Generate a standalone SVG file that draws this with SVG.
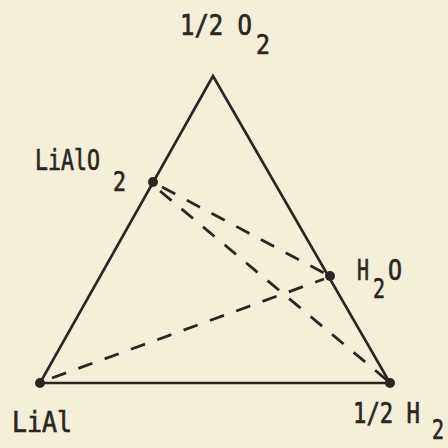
<svg xmlns="http://www.w3.org/2000/svg" width="448" height="448" viewBox="0 0 448 448">
<style>
.bg{fill:#f5efd9}
.edge{fill:none;stroke:#2b2622;stroke-width:2.6;stroke-linejoin:miter}
.dash{fill:none;stroke:#2b2622;stroke-width:2.8;stroke-dasharray:15 13}
.dot{fill:#2b2622}
.lbl{font-family:"DejaVu Sans Mono","Liberation Mono",monospace;font-size:28px;fill:#2b2622;stroke:#2b2622;stroke-width:0.7}
.sub{font-size:26px}
</style>
<rect class="bg" x="0" y="0" width="448" height="448"/>
<g id="connectors">
<polygon class="edge" points="213,76 40,383 390,383"/>
<line class="dash" x1="162" y1="187" x2="324" y2="273"/>
<line class="dash" x1="160" y1="191" x2="388" y2="381"/>
<line class="dash" x1="52" y1="378" x2="324" y2="279"/>
</g>
<g id="n-O2">
<text class="lbl"><tspan x="180" y="35" textLength="72" lengthAdjust="spacingAndGlyphs">1/2 O</tspan><tspan class="sub" x="256" y="54" textLength="14" lengthAdjust="spacingAndGlyphs">2</tspan></text>
</g>
<g id="n-LiAlO2">
<circle class="dot" cx="153" cy="182" r="5"/>
<text class="lbl"><tspan x="35" y="170" textLength="65" lengthAdjust="spacingAndGlyphs">LiAlO</tspan><tspan class="sub" x="113" y="191" textLength="13" lengthAdjust="spacingAndGlyphs">2</tspan></text>
</g>
<g id="n-H2O">
<circle class="dot" cx="330" cy="276" r="5"/>
<text class="lbl"><tspan x="357" y="280" textLength="12" lengthAdjust="spacingAndGlyphs">H</tspan><tspan class="sub" x="373" y="298" textLength="12" lengthAdjust="spacingAndGlyphs">2</tspan><tspan x="388" y="280" textLength="14" lengthAdjust="spacingAndGlyphs">O</tspan></text>
</g>
<g id="n-LiAl">
<circle class="dot" cx="40" cy="383" r="5"/>
<text class="lbl" x="12" y="432" textLength="60" lengthAdjust="spacingAndGlyphs">LiAl</text>
</g>
<g id="n-H2">
<circle class="dot" cx="390" cy="383" r="5"/>
<text class="lbl"><tspan x="353" y="423" textLength="67" lengthAdjust="spacingAndGlyphs">1/2 H</tspan><tspan class="sub" x="432" y="439" textLength="12" lengthAdjust="spacingAndGlyphs">2</tspan></text>
</g>
</svg>
